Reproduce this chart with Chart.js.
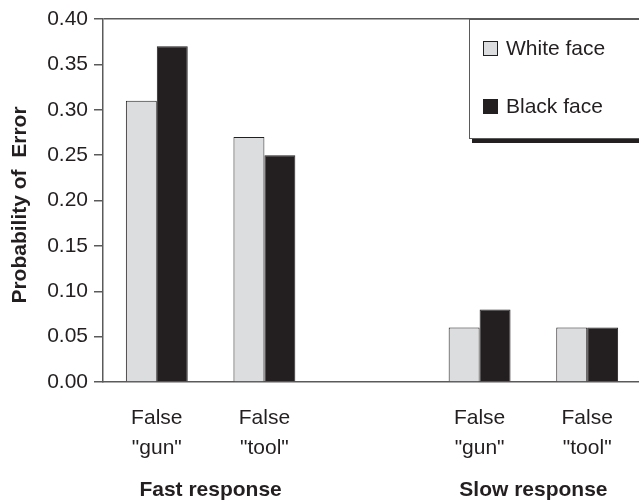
<!DOCTYPE html>
<html>
<head>
<meta charset="utf-8">
<script src="https://cdn.jsdelivr.net/npm/chart.js@4.4.1/dist/chart.umd.min.js"></script>
<style>
  html, body { margin: 0; padding: 0; background: #fff; overflow: hidden; }
  #wrap { width: 641px; height: 502px; }
</style>
</head>
<body>
<div id="wrap"><canvas id="grafica"></canvas></div>
<script>
// datos
const categorias = [['False', '"gun"'], ['False', '"tool"'], '', ['False', '"gun"'], ['False', '"tool"']];
const caraBlanca = [0.31, 0.27, null, 0.06, 0.06];
const caraNegra = [0.37, 0.25, null, 0.08, 0.06];
const grupos = ['Fast response', 'Slow response'];
const indicesGrupo = [[0, 1], [3, 4]];
const tituloY = 'Probability of  Error';

const TINTA = '#231f20';
const GRIS = '#dcdddf';
const EJE = '#5a5a5a';
const FUENTE = '"Liberation Sans", Arial, sans-serif';

const extras = {
    id: 'extras',
    afterDraw(chart) {
        const ctx = chart.ctx;
        const x = chart.scales.x;
        const area = chart.chartArea;

        ctx.save();
        ctx.fillStyle = TINTA;

        // titulo eje y
        ctx.save();
        ctx.translate(20, 205);
        ctx.rotate(-Math.PI / 2);
        ctx.font = 'bold 21px ' + FUENTE;
        ctx.textAlign = 'center';
        ctx.textBaseline = 'middle';
        ctx.fillText(tituloY, 0, 0);
        ctx.restore();

        // etiquetas de grupo
        ctx.font = 'bold 21px ' + FUENTE;
        ctx.textAlign = 'center';
        ctx.textBaseline = 'middle';
        grupos.forEach((g, i) => {
            const [a, b] = indicesGrupo[i];
            const cx = (x.getPixelForValue(a) + x.getPixelForValue(b)) / 2;
            ctx.fillText(g, cx, 490);
        });

        // leyenda con sombra
        const lx = 469, ly = area.top, lb = 138;
        ctx.fillStyle = TINTA;
        ctx.fillRect(lx + 3, lb, area.right - lx, 5);
        ctx.fillStyle = '#fff';
        ctx.fillRect(lx, ly, area.right - lx, lb - ly);
        ctx.strokeStyle = EJE;
        ctx.lineWidth = 1;
        ctx.strokeRect(lx + 0.5, ly + 0.5, area.right - lx, lb - ly);

        const items = chart.data.datasets;
        const filas = [48.5, 106.5];
        ctx.font = '21px ' + FUENTE;
        ctx.textAlign = 'left';
        items.forEach((ds, i) => {
            const y = filas[i];
            ctx.fillStyle = ds.backgroundColor;
            ctx.fillRect(483, y - 7.5, 15, 15);
            ctx.strokeStyle = TINTA;
            ctx.strokeRect(483.5, y - 7, 14, 14);
            ctx.fillStyle = TINTA;
            ctx.fillText(ds.label, 506, y + 1);
        });
        ctx.restore();
    }
};

new Chart(document.getElementById('grafica'), {
    type: 'bar',
    data: {
        labels: categorias,
        datasets: [
            { label: 'White face', data: caraBlanca, backgroundColor: GRIS, borderColor: TINTA, borderWidth: 1 },
            { label: 'Black face', data: caraNegra, backgroundColor: TINTA, borderColor: TINTA, borderWidth: 1 }
        ]
    },
    options: {
        responsive: true,
        maintainAspectRatio: false,
        animation: false,
        layout: { padding: { top: 19, left: 0, right: 0, bottom: 0 } },
        datasets: { bar: { categoryPercentage: 0.575, barPercentage: 1.0 } },
        plugins: {
            legend: { display: false },
            tooltip: { enabled: false }
        },
        scales: {
            x: {
                afterFit(scale) { scale.height = 120; },
                grid: { display: false, drawTicks: false },
                border: { display: true, color: EJE, width: 1.5 },
                ticks: {
                    color: TINTA,
                    padding: 21,
                    maxRotation: 0,
                    autoSkip: false,
                    font: { family: FUENTE, size: 21, lineHeight: 30 / 21 }
                }
            },
            y: {
                min: 0,
                max: 0.4,
                afterFit(scale) { scale.width = 103; },
                grid: {
                    color: c => (c.tick && Math.abs(c.tick.value - 0.4) < 1e-9) ? EJE : 'rgba(0,0,0,0)',
                    tickColor: EJE,
                    tickLength: 9,
                    lineWidth: 1.5
                },
                border: { display: true, color: EJE, width: 1.5 },
                ticks: {
                    stepSize: 0.05,
                    color: TINTA,
                    padding: 6,
                    font: { family: FUENTE, size: 21 },
                    callback: v => v.toFixed(2)
                }
            }
        }
    },
    plugins: [extras]
});
</script>
</body>
</html>
